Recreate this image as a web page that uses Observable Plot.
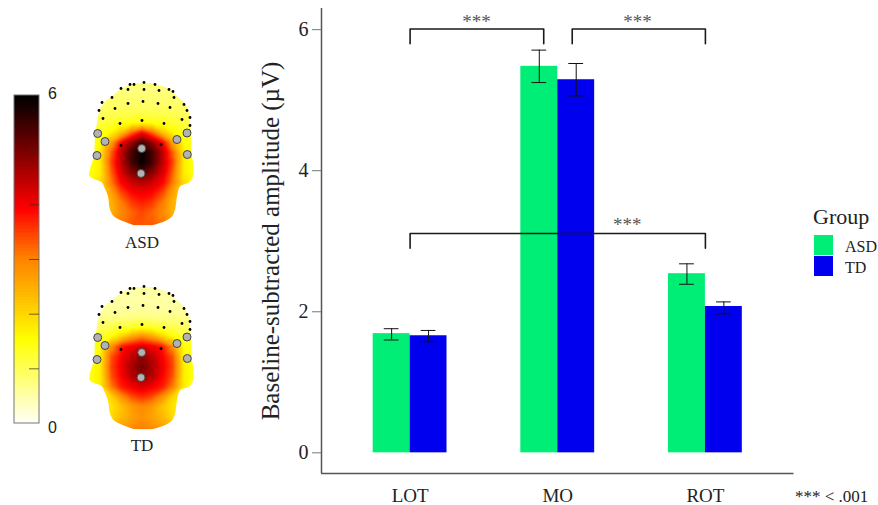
<!DOCTYPE html>
<html>
<head>
<meta charset="utf-8">
<script src="https://cdn.jsdelivr.net/npm/d3@7"></script>
<script src="https://cdn.jsdelivr.net/npm/@observablehq/plot@0.6"></script>
<style>
html,body{margin:0;padding:0;background:#fff;}
#stage{position:relative;width:878px;height:505px;overflow:hidden;font-family:"Liberation Serif",serif;color:#222;}
#stage svg{position:absolute;top:0;background:transparent;}
.lg{position:absolute;line-height:1;white-space:nowrap;}
</style>
</head>
<body>
<div id="stage"></div>
<script>
// ---- bar chart values (µV) ----
const categories = ["LOT", "MO", "ROT"];
const groups = ["ASD", "TD"];
const groupColors = ["#00EE76", "#0000EE"];
const asdMean  = [1.69, 5.48, 2.54];
const asdLower = [1.60, 5.25, 2.39];
const asdUpper = [1.76, 5.71, 2.68];
const tdMean   = [1.66, 5.29, 2.075];
const tdLower  = [1.575, 5.06, 1.97];
const tdUpper  = [1.735, 5.52, 2.14];
const yTicks = [0, 2, 4, 6];

// significance brackets, in category position and µV
const bracketFrom = [1, 2.098, 1];
const bracketTo   = [1.905, 3, 3];
const bracketTop  = [6.01, 6.01, 3.11];
const bracketFoot = [5.80, 5.80, 2.90];
const starX = [1.45, 2.54, 2.47];
const starY = [6.105, 6.105, 3.225];

// ---- scalp map data ----
const scaleStops  = [0, 1.5, 3, 3.9, 4.9, 5.85, 6];
const scaleColors = ["#fffff4", "#ffff00", "#ff8000", "#ff0000", "#800000", "#0a0000", "#000000"];
const scaleTicks  = [1, 2, 3, 4, 5];
const scaleLevels = d3.range(0, 6.001, 0.05);

const gridDx = [-52, -42, -31, -21, -10, 0, 10, 21, 31, 42, 52];
const gridDy = [0, 10, 20, 30, 40, 50, 60, 70, 80, 90, 100, 110, 120, 130, 143];
const asdField = [
 [.75,.75,.75,.75,.75,.75,.75,.75,.75,.75,.75],
 [.75,.75,.75,.75,.75,.75,.75,.75,.75,.75,.75],
 [.8,.8,.85,.85,.85,.85,.85,.85,.85,.8,.8],
 [.85,.9,1,1,1,1,1,1,1,.9,.85],
 [1,1.1,1.2,1.3,1.4,1.5,1.4,1.3,1.2,1.1,1],
 [1.2,1.3,1.6,2.2,3.2,3.9,3.2,2.2,1.6,1.3,1.2],
 [1.3,1.5,2.6,3.9,4.8,5.4,4.8,3.9,2.6,1.5,1.3],
 [1.4,1.7,3.2,4.4,5.4,5.9,5.4,4.4,3.2,1.7,1.4],
 [1.4,1.7,3.4,4.4,5.4,5.9,5.4,4.4,3.4,1.7,1.4],
 [1.4,1.7,3.2,4.2,4.9,5.3,4.9,4.2,3.2,1.7,1.4],
 [1.4,1.9,3,3.9,4.3,4.5,4.3,3.9,3,1.9,1.4],
 [1.6,2,2.6,3.4,3.9,4,3.9,3.4,2.6,2,1.6],
 [1.8,2.2,2.4,3,3.5,3.7,3.5,3,2.4,2.2,1.8],
 [2,2.3,2.4,2.9,3.2,3.4,3.2,2.9,2.4,2.3,2],
 [2.5,2.7,2.9,3.1,3.3,3.3,3.3,3.1,2.9,2.7,2.5]
];
const tdField = [
 [.5,.5,.5,.5,.5,.5,.5,.5,.5,.5,.5],
 [.5,.5,.5,.5,.5,.5,.5,.5,.5,.5,.5],
 [.5,.5,.5,.5,.5,.5,.5,.5,.5,.5,.5],
 [.6,.6,.65,.65,.65,.7,.65,.65,.65,.6,.6],
 [.8,.9,1,1.1,1.2,1.3,1.2,1.1,1,.9,.8],
 [1.1,1.2,1.5,2,2.6,2.9,2.6,2,1.5,1.2,1.1],
 [1.3,1.5,2.8,3.7,4,4.2,4,3.7,2.8,1.5,1.3],
 [1.3,1.6,3.3,3.9,4.4,4.8,4.4,3.9,3.3,1.6,1.3],
 [1.4,1.7,3.4,4,4.6,5,4.6,4,3.4,1.7,1.4],
 [1.4,1.7,3.3,3.9,4.5,4.8,4.5,3.9,3.3,1.7,1.4],
 [1.3,1.7,3,3.7,4,4.2,4,3.7,3,1.7,1.3],
 [1.3,1.6,2,2.8,3.4,3.6,3.4,2.8,2,1.6,1.3],
 [1.4,1.6,1.8,2.2,2.7,2.9,2.7,2.2,1.8,1.6,1.4],
 [1.6,1.7,1.9,2.3,2.6,2.8,2.6,2.3,1.9,1.7,1.6],
 [2.2,2.3,2.5,2.7,2.9,3,2.9,2.7,2.5,2.3,2.2]
];
const outlineDy    = [0, 2, 7, 14, 20, 30, 40, 54, 74, 80, 87, 94, 100, 104, 114, 127, 134, 139, 143];
const outlineLeft  = [-7, -11, -22, -30, -38, -43, -45, -47, -48, -50, -52, -52, -40, -38, -34, -32, -28, -18, -7];
const outlineRight = [7, 15, 28, 35, 42, 47, 48, 49, 50, 51, 51, 51, 47, 38, 35, 33, 30, 22, 9];

const sensorDx = [-44.3, -37, -45, -0.3, -1, 35, 45, 45.3];
const sensorDy = [51, 59, 73, 66, 91, 57, 50.5, 72];
const electrodeDx = [2,-14,2,17,32,-30,-14,1,16,-27,28,42,-39,-22,0,22,40,-21,19,-43,45,-40,-21,-12,-8,13,27,31,48,48];
const electrodeDy = [0,7,7,8,15,15,21,19,21,26,25,22,36,41,38,41,37,63,62,28,28,20,6,2,2,2,7,9,35,43];

const heads = [
  {label: "ASD", field: asdField, cx: 141.5, top: 82, labelY: 242},
  {label: "TD",  field: tdField,  cx: 141.5, top: 286, labelY: 445}
];
const barBase = 423, barUnit = 54.67, barLeft = 14, barRight = 39, tickLeft = 29;

// ---- left panel ----
const rasters = heads.map(h => {
  const pts = [];
  gridDy.forEach((dy, r) => gridDx.forEach((dx, c) => pts.push({x: h.cx + dx, y: h.top + dy, v: h.field[r][c]})));
  return Plot.raster(pts, {x: "x", y: "y", fill: "v", interpolate: "barycentric",
    x1: h.cx - 53, x2: h.cx + 53, y1: h.top, y2: h.top + 143});
});
const sensors = heads.flatMap(h => sensorDx.map((dx, i) => ({x: h.cx + dx, y: h.top + sensorDy[i]})));
const electrodes = heads.flatMap(h => electrodeDx.map((dx, i) => ({x: h.cx + dx, y: h.top + electrodeDy[i]})));

const left = Plot.plot({
  width: 230, height: 505, margin: 0,
  x: {domain: [0, 230], axis: null},
  y: {domain: [505, 0], axis: null},
  color: {type: "linear", domain: scaleStops, range: scaleColors, clamp: true},
  style: {background: "transparent", fontFamily: "Liberation Serif"},
  marks: [
    ...rasters,
    Plot.rect(scaleLevels, {x1: barLeft, x2: barRight,
      y1: d => barBase - d * barUnit, y2: d => barBase - Math.min(d + 0.09, 6) * barUnit, fill: d => d, shapeRendering: "crispEdges"}),
    Plot.rect([0], {x1: barLeft, x2: barRight, y1: barBase, y2: barBase - 6 * barUnit, fill: "none", stroke: "#777", strokeWidth: 1}),
    Plot.ruleY(scaleTicks, {y: d => barBase - d * barUnit, x1: tickLeft, x2: barRight, stroke: "#3a2a20", strokeWidth: 1, strokeOpacity: 0.7}),
    Plot.text([{t: "6", v: 6.03}, {t: "0", v: -0.08}], {x: 52, y: d => barBase - d.v * barUnit, text: "t", fontSize: 16, fill: "#222", fontFamily: "Liberation Sans"}),
    Plot.dot(electrodes, {x: "x", y: "y", r: 1.4, fill: "#000", stroke: "none"}),
    Plot.dot(sensors, {x: "x", y: "y", r: 4, fill: "#b2b2b2", stroke: "#444", strokeWidth: 1}),
    Plot.text(heads, {x: "cx", y: "labelY", text: "label", fontSize: 17, fill: "#222", fontFamily: "Liberation Serif"})
  ]
});
// clip each field raster to its head outline
{
  const sx = left.scale("x"), sy = left.scale("y");
  const defs = d3.select(left).append("defs");
  left.querySelectorAll("image").forEach((img, i) => {
    const h = heads[i];
    const area = d3.area()
      .x0((d, k) => sx.apply(h.cx + outlineLeft[k]))
      .x1((d, k) => sx.apply(h.cx + outlineRight[k]))
      .y(d => sy.apply(h.top + d))
      .curve(d3.curveCatmullRom);
    defs.append("clipPath").attr("id", "head-" + i).append("path").attr("d", area(outlineDy));
    const wrap = document.createElementNS("http://www.w3.org/2000/svg", "g");
    wrap.setAttribute("clip-path", `url(#head-${i})`);
    img.parentNode.insertBefore(wrap, img);
    wrap.appendChild(img);
  });
}

// ---- bar chart ----
const barOffset = 0.125, barHalf = 0.125, capHalf = 0.05;
const rows = categories.flatMap((c, i) => [
  {group: groups[0], pos: i + 1 - barOffset, mean: asdMean[i], lo: asdLower[i], hi: asdUpper[i]},
  {group: groups[1], pos: i + 1 + barOffset, mean: tdMean[i], lo: tdLower[i], hi: tdUpper[i]}
]);
const brackets = bracketFrom.map((x, i) => ({x1: x, x2: bracketTo[i], top: bracketTop[i], foot: bracketFoot[i]}));
const bracketPaths = brackets.map(b => [[b.x1, b.foot], [b.x1, b.top], [b.x2, b.top], [b.x2, b.foot]]);

const main = Plot.plot({
  width: 878, height: 505,
  marginLeft: 321, marginRight: 84.5, marginTop: 8, marginBottom: 32,
  x: {domain: [0.4, 3.6], label: null},
  y: {domain: [-0.293, 6.3], label: null},
  color: {domain: groups, range: groupColors},
  style: {background: "transparent", fontFamily: "Liberation Serif", color: "#222"},
  marks: [
    Plot.rectY(rows, {x1: d => d.pos - barHalf, x2: d => d.pos + barHalf, y1: 0, y2: "mean", fill: "group", inset: 0}),
    Plot.ruleX(rows, {x: "pos", y1: "lo", y2: "hi", stroke: "#111", strokeWidth: 1}),
    Plot.ruleY(rows, {y: "hi", x1: d => d.pos - capHalf, x2: d => d.pos + capHalf, stroke: "#111", strokeWidth: 1}),
    Plot.ruleY(rows, {y: "lo", x1: d => d.pos - capHalf, x2: d => d.pos + capHalf, stroke: "#111", strokeWidth: 1}),
    ...bracketPaths.map(p => Plot.line(p, {x: d => d[0], y: d => d[1], stroke: "#1a1a1a", strokeWidth: 1.6, strokeLinejoin: "round"})),
    Plot.text(starX, {x: d => d, y: (d, i) => starY[i], text: () => "***", fontSize: 19, fill: "#555", lineAnchor: "middle"}),
    Plot.ruleX([0.4], {stroke: "#555", strokeWidth: 1.5}),
    Plot.ruleY([-0.293], {stroke: "#555", strokeWidth: 1.5}),
    Plot.axisY({ticks: yTicks, tickFormat: "d", tickSize: 9, tickPadding: 4, fontSize: 20, stroke: "#777", label: null}),
    Plot.axisX({ticks: [1, 2, 3], tickFormat: d => categories[d - 1], tickSize: 0, tickPadding: 15, fontSize: 19, label: null}),
    Plot.text(["Baseline-subtracted amplitude (µV)"], {frameAnchor: "left", textAnchor: "middle", dx: -51, dy: 0, rotate: -90, fontSize: 25, fill: "#222"})
  ]
});

const stage = document.getElementById("stage");
left.style.left = "0px";
main.style.left = "0px";
stage.append(left, main);

// ---- legend and footnote ----
function addText(text, x, y, size) {
  const d = document.createElement("div");
  d.className = "lg";
  d.textContent = text;
  d.style.cssText = `left:${x}px;top:${y}px;font-size:${size}px;`;
  stage.append(d);
}
function addSwatch(color, x, y) {
  const d = document.createElement("div");
  d.className = "lg";
  d.style.cssText = `left:${x}px;top:${y}px;width:19px;height:20px;background:${color};`;
  stage.append(d);
}
addText("Group", 813, 206, 22);
groups.forEach((g, i) => {
  addSwatch(groupColors[i], 814, 235 + i * 20.5);
  addText(g, 845, 239 + i * 20.5, 16);
});
addText("*** < .001", 795, 488, 17);
</script>
</body>
</html>
